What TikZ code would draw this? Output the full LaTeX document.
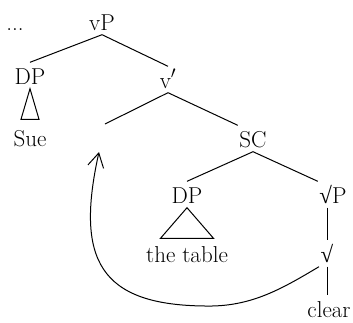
\documentclass[tikz,border=0pt]{standalone}
\usepackage{fontspec}
\usepackage{tikz}
\usetikzlibrary{arrows.meta}
\usepackage{amsmath,amssymb}
\newfontfamily\rootfont{Liberation Serif}
\newcommand{\rt}{{\rootfont √}}
\tikzset{
    lab/.style={anchor=base, font=\fontsize{23}{27}\selectfont, inner sep=1.5pt, text height=20pt, text depth=3pt},
    branch/.style={line width=1pt}
}

\begin{document}
\begin{tikzpicture}[x=1pt,y=-1pt]
            \useasboundingbox (0,0) rectangle (353,322);
            \node[lab] (dots) at (15,30) {...};
            \node[lab] (vP) at (102,30) {vP};
            \node[lab] (DPa) at (30,84) {DP};
            \node[lab] (Sue) at (30,146) {Sue};
            \node[lab] (vbar) at (168,88) {v$'$};
            \coordinate (gap) at (105,124);
            \node[lab] (SC) at (253,147) {SC};
            \node[lab] (DPb) at (187,203) {DP};
            \node[lab] (table) at (187,262) {the table};
            \node[lab] (rootP) at (333,203) {\rt P};
            \node[lab] (root) at (327,262) {\rt};
            \node[lab,text depth=0pt] (clear) at (329,317) {clear};
            \coordinate (trace) at (99,152);
            \draw[branch] (DPa.north) -- (vP.south) -- (vbar.north);
            \draw[branch] (gap) -- (vbar.south) -- (SC.north west);
            \draw[branch] (DPb.north) -- (SC.south) -- (rootP.north west);
            \draw[branch] (DPa.south) -- ([xshift=-9pt,yshift=5pt]Sue.north) -- ([xshift=9pt,yshift=5pt]Sue.north) -- cycle;
            \draw[branch] (DPb.south) -- ([xshift=-26.5pt,yshift=2pt]table.north) -- ([xshift=26.5pt,yshift=2pt]table.north) -- cycle;
            \draw[branch] (root.north |- rootP.south) -- (root.north);
            \draw[branch] (root.south) -- (root.south |- clear.north);
            \draw[branch,-{Straight Barb[length=14pt,width=16pt]}] (root.south west) .. controls (280,290) and (250,307) .. (205,306) .. controls (100,305) and (75,260) .. (trace);
\end{tikzpicture}
\end{document}
